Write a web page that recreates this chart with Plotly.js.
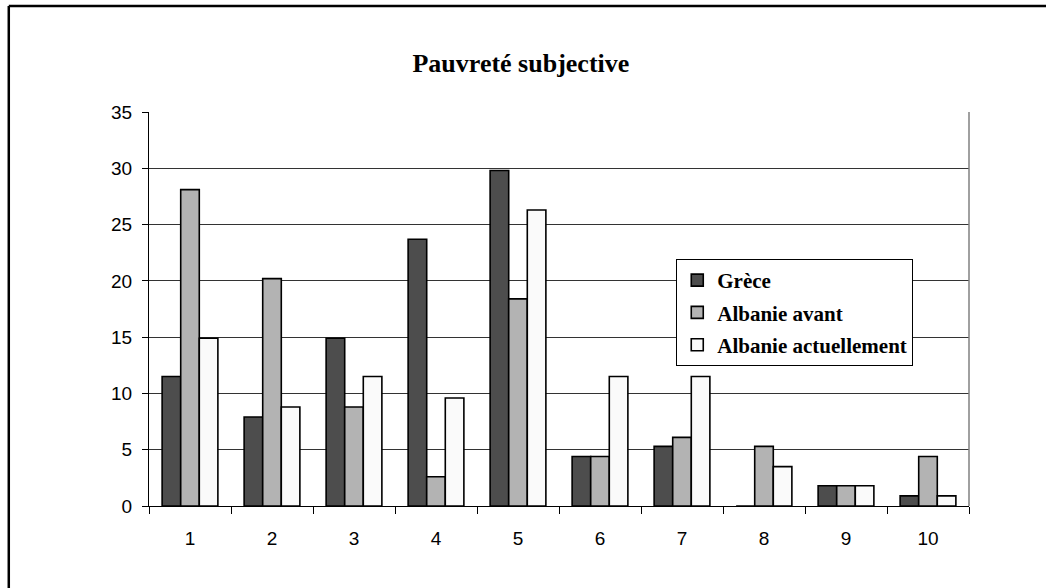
<!DOCTYPE html>
<html>
<head>
<meta charset="utf-8">
<script src="https://cdn.plot.ly/plotly-3.0.1.min.js"></script>
<style>
html,body{margin:0;padding:0;background:#fff;}
#chart{width:1046px;height:588px;}
</style>
</head>
<body>
<div id="chart"></div>
<script>
const categories = ["1","2","3","4","5","6","7","8","9","10"];
const seriesNames = ["Grèce","Albanie avant","Albanie actuellement"];
const grece = [11.5, 7.9, 14.9, 23.7, 29.8, 4.4, 5.3, 0, 1.8, 0.9];
const albanieAvant = [28.1, 20.2, 8.8, 2.6, 18.4, 4.4, 6.1, 5.3, 1.8, 4.4];
const albanieActuellement = [14.9, 8.8, 11.5, 9.6, 26.3, 11.5, 11.5, 3.5, 1.8, 0.9];
const yTicks = [0, 5, 10, 15, 20, 25, 30, 35];

const colors = ["#4d4d4d", "#b3b3b3", "#fafafa"];
const values = [grece, albanieAvant, albanieActuellement];

const data = values.map((v, i) => ({
  type: "bar",
  name: seriesNames[i],
  legendgroup: "g" + i,
  x: categories,
  y: v,
  marker: {color: colors[i], line: {color: "#000", width: 1.6}},
  hoverinfo: "skip"
}));

const layout = {
  width: 1046,
  height: 588,
  margin: {l: 149, r: 77, t: 112, b: 82, pad: 0},
  paper_bgcolor: "#fff",
  plot_bgcolor: "#fff",
  barmode: "group",
  bargap: 0.32,
  bargroupgap: 0,
  showlegend: true,
  title: {
    text: "<b>Pauvreté subjective</b>",
    font: {family: "Liberation Serif", size: 26, color: "#000"},
    xref: "container", x: 0.498, xanchor: "center",
    yref: "container", y: 0.893, yanchor: "middle"
  },
  xaxis: {
    type: "category",
    tickson: "boundaries",
    ticks: "outside",
    ticklen: 7,
    tickcolor: "#000",
    tickwidth: 1,
    showline: true,
    linecolor: "#000",
    linewidth: 1,
    showgrid: false,
    tickfont: {family: "Liberation Sans", size: 19, color: "#000"},
    ticklabelstandoff: 15
  },
  yaxis: {
    range: [0, 35],
    tickvals: yTicks,
    ticktext: yTicks.map(String),
    ticks: "outside",
    ticklen: 6,
    tickcolor: "#000",
    showline: true,
    linecolor: "#000",
    linewidth: 1,
    showgrid: true,
    gridcolor: "#333",
    gridwidth: 1,
    zeroline: false,
    tickfont: {family: "Liberation Sans", size: 19, color: "#000"},
    ticklabelstandoff: 6
  },
  legend: {
    x: 0.643, y: 0.627, xanchor: "left", yanchor: "top",
    bgcolor: "#fff",
    bordercolor: "#000",
    borderwidth: 1,
    font: {family: "Liberation Serif", size: 21, color: "#000", weight: "bold"},
    traceorder: "grouped",
    tracegroupgap: 2,
    itemwidth: 30,
    itemclick: false
  },
  shapes: [
    {type: "line", xref: "paper", yref: "paper", x0: 1, x1: 1, y0: 0, y1: 1,
     line: {color: "#808080", width: 1.5}},
    {type: "line", xref: "paper", yref: "paper", x0: -0.171, x1: 1.2, y0: 1.269, y1: 1.269,
     line: {color: "#000", width: 2.5}},
    {type: "line", xref: "paper", yref: "paper", x0: -0.171, x1: -0.171, y0: 1.269, y1: -0.3,
     line: {color: "#000", width: 2.5}}
  ]
};

Plotly.newPlot("chart", data, layout, {staticPlot: true, displayModeBar: false});
</script>
</body>
</html>
